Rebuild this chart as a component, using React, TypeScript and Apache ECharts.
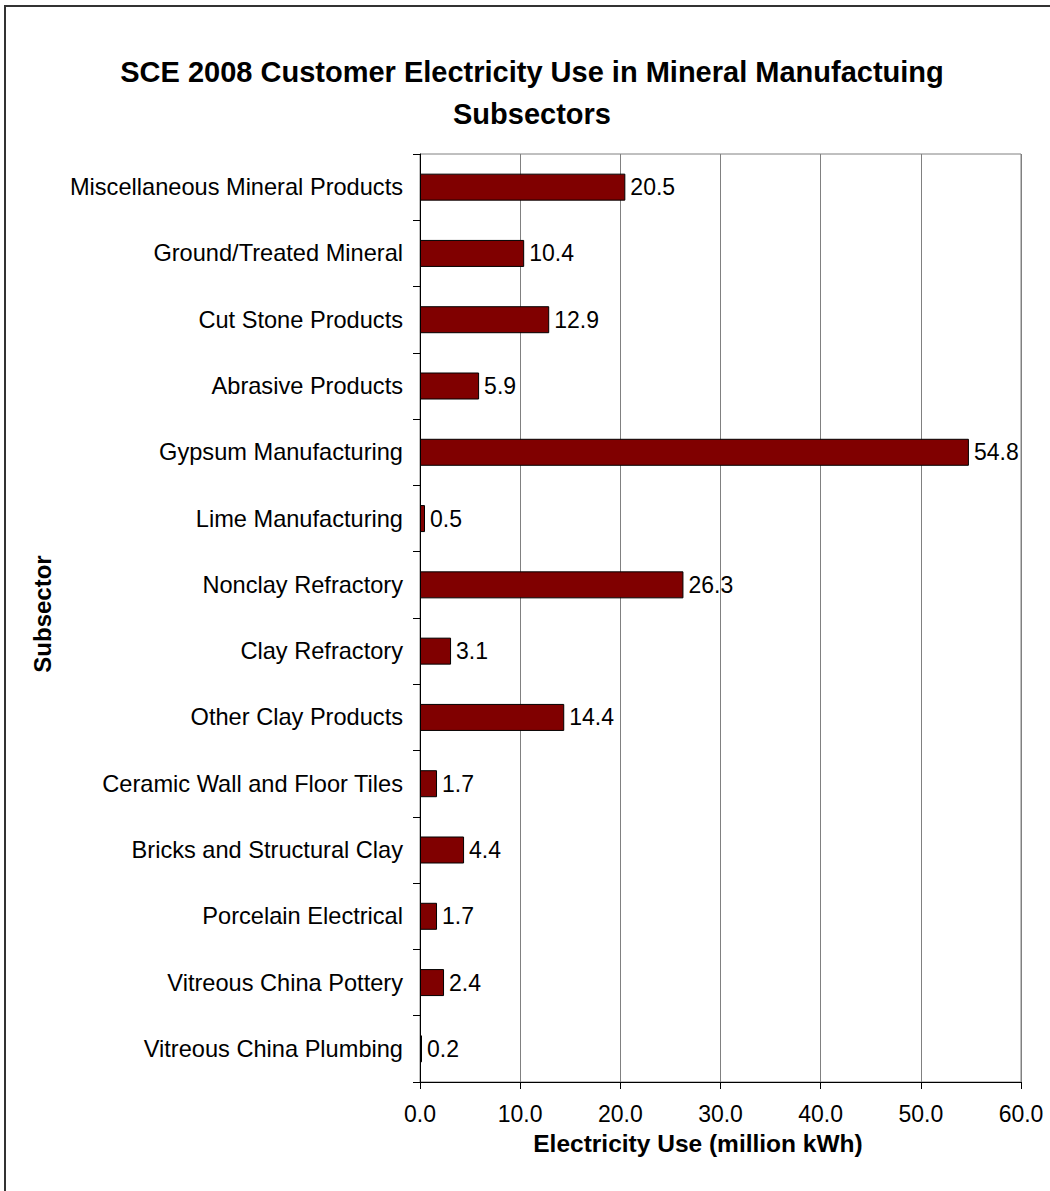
import React, { useEffect, useRef } from "react";
import * as echarts from "echarts";

const categories = [
  "Miscellaneous Mineral Products",
  "Ground/Treated Mineral",
  "Cut Stone Products",
  "Abrasive Products",
  "Gypsum Manufacturing",
  "Lime Manufacturing",
  "Nonclay Refractory",
  "Clay Refractory",
  "Other Clay Products",
  "Ceramic Wall and Floor Tiles",
  "Bricks and Structural Clay",
  "Porcelain Electrical",
  "Vitreous China Pottery",
  "Vitreous China Plumbing",
];
const values = [20.5, 10.4, 12.9, 5.9, 54.8, 0.5, 26.3, 3.1, 14.4, 1.7, 4.4, 1.7, 2.4, 0.2];
const xMin = 0;
const xMax = 60;
const xInterval = 10;

const titleLine1 = "SCE 2008 Customer Electricity Use in Mineral Manufactuing";
const titleLine2 = "Subsectors";
const xTitle = "Electricity Use (million kWh)";
const yTitle = "Subsector";

const FONT = '"Liberation Sans", Arial, sans-serif';

export default function App() {
  const ref = useRef<HTMLDivElement>(null);
  useEffect(() => {
    document.body.style.margin = "0";
    const chart = echarts.init(ref.current!, null, { renderer: "svg" });
    chart.setOption({
      animation: false,
      backgroundColor: "#ffffff",
      textStyle: { fontFamily: FONT },
      grid: {
        left: 420,
        top: 154,
        width: 601,
        height: 928,
        show: true,
        borderColor: "#808080",
        borderWidth: 1,
        backgroundColor: "transparent",
      },
      xAxis: {
        type: "value",
        min: xMin,
        max: xMax,
        interval: xInterval,
        axisLine: { show: true, lineStyle: { color: "#000", width: 1 } },
        axisTick: { show: true, length: 7, lineStyle: { color: "#000" } },
        axisLabel: {
          fontSize: 23,
          color: "#000",
          fontFamily: FONT,
          margin: 20,
          formatter: (v: number) => v.toFixed(1),
        },
        splitLine: { show: true, lineStyle: { color: "#808080", width: 1 } },
      },
      yAxis: {
        type: "category",
        data: categories,
        inverse: true,
        axisLine: { show: true, lineStyle: { color: "#000", width: 1 } },
        axisTick: { show: true, length: 7, lineStyle: { color: "#000" } },
        axisLabel: { fontSize: 23.6, color: "#000", fontFamily: FONT, margin: 17 },
        splitLine: { show: false },
      },
      series: [
        {
          type: "bar",
          data: values,
          barWidth: 27,
          itemStyle: { color: "#800000", borderColor: "#000", borderWidth: 1 },
          label: {
            show: true,
            position: "right",
            distance: 5,
            fontSize: 23,
            color: "#000",
            fontFamily: FONT,
            formatter: (p: any) => Number(p.value).toFixed(1),
          },
        },
      ],
      graphic: [
        {
          type: "rect",
          shape: { x: 5, y: 6, width: 1200, height: 1400 },
          style: { fill: "none", stroke: "#333", lineWidth: 2 },
          silent: true,
          z: 100,
        },
        {
          type: "text",
          x: 532,
          y: 72,
          style: {
            text: titleLine1,
            font: `bold 29px ${FONT}`,
            fill: "#000",
            align: "center",
            verticalAlign: "middle",
          },
        },
        {
          type: "text",
          x: 532,
          y: 114,
          style: {
            text: titleLine2,
            font: `bold 29px ${FONT}`,
            fill: "#000",
            align: "center",
            verticalAlign: "middle",
          },
        },
        {
          type: "text",
          x: 698,
          y: 1143,
          style: {
            text: xTitle,
            font: `bold 24.5px ${FONT}`,
            fill: "#000",
            align: "center",
            verticalAlign: "middle",
          },
        },
        {
          type: "text",
          x: 42,
          y: 614,
          rotation: Math.PI / 2,
          style: {
            text: yTitle,
            font: `bold 24px ${FONT}`,
            fill: "#000",
            align: "center",
            verticalAlign: "middle",
          },
        },
      ],
    });
    return () => chart.dispose();
  }, []);
  return <div ref={ref} style={{ width: 1050, height: 1191 }} />;
}
